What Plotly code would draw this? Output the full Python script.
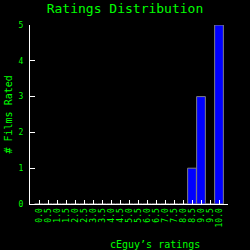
import plotly.graph_objects as go

categories = ["0.0", "0.5", "1.0", "1.5", "2.0", "2.5", "3.0", "3.5", "4.0", "4.5",
              "5.0", "5.5", "6.0", "6.5", "7.0", "7.5", "8.0", "8.5", "9.0", "9.5", "10.0"]
counts = [0, 0, 0, 0, 0, 0, 0, 0, 0, 0, 0, 0, 0, 0, 0, 0, 0, 1, 3, 0, 5]

GREEN = "#00ff00"
FONT = "DejaVu Sans Mono"

fig = go.Figure(go.Bar(
    x=categories, y=counts,
    marker=dict(color="#0000ff", line=dict(color="#808080", width=1)),
))

fig.update_layout(
    width=250, height=250,
    paper_bgcolor="black", plot_bgcolor="black",
    margin=dict(l=30, r=22, t=25, b=46),
    bargap=0.03,
    showlegend=False,
    font=dict(family=FONT, color=GREEN),
    title=dict(text="Ratings Distribution", x=0.5, xanchor="center", y=1 - 8/250, yanchor="middle",
               font=dict(family=FONT, size=13, color=GREEN)),
    xaxis=dict(type="category", range=[-1, 21], showline=True, linecolor="white", linewidth=1,
               tickmode="linear", tick0=0, dtick=1,
               ticks="inside", ticklen=4, tickcolor="white", tickangle=-90,
               tickfont=dict(family=FONT, size=8, color=GREEN), showgrid=False, zeroline=False,
               fixedrange=True),
    yaxis=dict(range=[0, 5], dtick=1, showline=True, linecolor="white", linewidth=1,
               ticks="inside", ticklen=5, tickcolor="white", ticklabelstandoff=4,
               tickfont=dict(family=FONT, size=8, color=GREEN), showgrid=False, zeroline=False),
    annotations=[
        dict(text="cEguy’s ratings", xref="paper", yref="paper", x=(155 - 30) / 198,
             y=-(244 - 204) / 179, xanchor="center", yanchor="middle", showarrow=False,
             font=dict(family=FONT, size=10, color=GREEN)),
        dict(text="# Films Rated", xref="paper", yref="paper", x=-(30 - 7.5) / 198,
             y=(204 - 115) / 179, xanchor="center", yanchor="middle", textangle=-90, showarrow=False,
             font=dict(family=FONT, size=10, color=GREEN)),
    ],
)

fig.write_html("out.html")
